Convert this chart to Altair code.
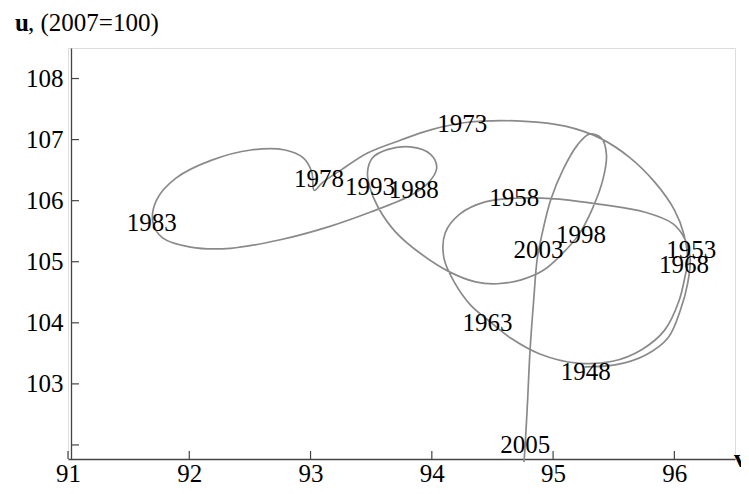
import altair as alt
import pandas as pd

# ---- traced trajectory (v, u), in time order 1948 -> 2005 ----
path_v = [95.26, 95.51, 95.76, 95.95, 96.05, 96.11, 96.13,            # 1948 -> 1953
          96.09, 95.99, 95.76, 95.39, 95.02, 94.69,                    # -> 1958
          94.44, 94.23, 94.11, 94.10, 94.19, 94.32, 94.46,             # -> 1963
          94.65, 94.89, 95.20, 95.49, 95.73, 95.92, 96.04, 96.09, 96.11,  # -> 1968
          96.08, 96.00, 95.84, 95.63, 95.39, 95.10, 94.77, 94.28,      # -> 1973
          93.99, 93.74, 93.47, 93.25, 93.10, 93.03,                    # -> 1978
          93.01, 92.94, 92.79, 92.51, 92.18, 91.89, 91.73, 91.70,      # -> 1983
          91.78, 92.01, 92.34, 92.75, 93.16, 93.49, 93.82,             # -> 1988
          93.97, 94.04, 93.99, 93.82, 93.64, 93.51, 93.47, 93.49,      # -> 1993
          93.56, 93.70, 93.91, 94.15, 94.36, 94.54, 94.73, 94.92, 95.08, 95.21,  # -> 1998
          95.32, 95.41, 95.44, 95.40, 95.30, 95.20, 95.08, 94.98, 94.92, 94.87,  # -> 2003
          94.84, 94.81, 94.79, 94.77, 94.76]                           # -> 2005
path_u = [103.28, 103.31, 103.47, 103.76, 104.21, 104.65, 105.06,
          105.36, 105.62, 105.81, 105.94, 106.03, 106.04,
          105.98, 105.78, 105.47, 105.06, 104.65, 104.29, 104.05,
          103.75, 103.49, 103.34, 103.37, 103.56, 103.88, 104.37, 104.78, 104.99,
          105.44, 105.85, 106.30, 106.71, 107.02, 107.22, 107.30, 107.28,
          107.16, 106.99, 106.78, 106.50, 106.30, 106.17,
          106.47, 106.70, 106.83, 106.83, 106.66, 106.37, 106.01, 105.65,
          105.39, 105.24, 105.22, 105.36, 105.58, 105.81, 106.08,
          106.29, 106.53, 106.76, 106.88, 106.84, 106.70, 106.47, 106.21,
          105.88, 105.49, 105.13, 104.83, 104.67, 104.64, 104.70, 104.86, 105.14, 105.44,
          105.85, 106.34, 106.75, 107.02, 107.09, 106.91, 106.50, 106.01, 105.55, 105.06,
          104.37, 103.55, 102.74, 102.00, 101.72]

# ---- year labels ----
label_years = ["1948", "1953", "1958", "1963", "1968", "1973", "1978",
               "1983", "1988", "1993", "1998", "2003", "2005"]
label_v = [95.27, 96.14, 94.68, 94.46, 96.08, 94.25, 93.07,
           91.69, 93.85, 93.49, 95.23, 94.88, 94.77]
label_u = [103.19, 105.19, 106.04, 104.00, 104.95, 107.25, 106.35,
           105.63, 106.17, 106.22, 105.44, 105.19, 102.00]

# ---- axes ----
x_ticks = [91, 92, 93, 94, 95, 96]
y_ticks = [102, 103, 104, 105, 106, 107, 108]
y_tick_labels = [103, 104, 105, 106, 107, 108]

W, H = 667, 411
FONT = "Liberation Serif"
FS = 25
LINE_COLOR = "#8a8a8a"
AXIS_COLOR = "#444444"

x_scale = alt.Scale(domain=[91, 96.5], nice=False, zero=False)
y_scale = alt.Scale(domain=[101.77, 108.5], nice=False, zero=False)

x_axis = alt.Axis(values=x_ticks, title=None, grid=False, ticks=False, tickSize=0,
                  domain=True, domainColor=AXIS_COLOR, domainWidth=1.3,
                  labelFont=FONT, labelFontSize=FS, labelColor="black",
                  labelPadding=2, labelFlush=False, format="d")
y_axis = alt.Axis(values=y_tick_labels, title=None, grid=False, ticks=False, tickSize=0,
                  domain=True, domainColor=AXIS_COLOR, domainWidth=1.3, offset=-3,
                  labelFont=FONT, labelFontSize=FS, labelColor="black",
                  labelPadding=8, labelFlush=False, format="d")

path_df = pd.DataFrame({"order": list(range(len(path_v))), "v": path_v, "u": path_u})
labels_df = pd.DataFrame({"year": label_years, "v": label_v, "u": label_u})
xt_df = pd.DataFrame({"v": x_ticks})
yt_df = pd.DataFrame({"u": y_ticks})

line = alt.Chart(path_df).mark_line(
    interpolate="catmull-rom", color=LINE_COLOR, strokeWidth=1.7
).encode(
    x=alt.X("v:Q", scale=x_scale, axis=x_axis),
    y=alt.Y("u:Q", scale=y_scale, axis=y_axis),
    order="order:Q",
)

labels = alt.Chart(labels_df).mark_text(
    font=FONT, fontSize=FS, color="black", align="center", baseline="middle"
).encode(
    x=alt.X("v:Q", scale=x_scale, axis=x_axis),
    y=alt.Y("u:Q", scale=y_scale, axis=y_axis),
    text="year:N",
)

x_tick_marks = alt.Chart(xt_df).mark_rule(color=AXIS_COLOR, strokeWidth=1.2).encode(
    x=alt.X("v:Q", scale=x_scale, axis=x_axis),
    y=alt.value(H),
    y2=alt.value(H - 8),
)

y_tick_marks = alt.Chart(yt_df).mark_rule(color=AXIS_COLOR, strokeWidth=1.2).encode(
    y=alt.Y("u:Q", scale=y_scale, axis=y_axis),
    x=alt.value(3),
    x2=alt.value(11),
)

one = alt.Data(values=[{"k": 1}])
u_title = alt.Chart(one).mark_text(
    font=FONT, fontSize=25, fontWeight="bold", color="black", align="left", baseline="middle"
).encode(x=alt.value(-53), y=alt.value(-25), text=alt.value("u"))
u_rest = alt.Chart(one).mark_text(
    font=FONT, fontSize=25, color="black", align="left", baseline="middle"
).encode(x=alt.value(-40), y=alt.value(-25), text=alt.value(", (2007=100)"))
v_title = alt.Chart(one).mark_text(
    font=FONT, fontSize=26, fontWeight="bold", color="black", align="left", baseline="middle"
).encode(x=alt.value(W - 1), y=alt.value(H), text=alt.value("v"))

chart = alt.layer(
    x_tick_marks, y_tick_marks, line, labels, u_title, u_rest, v_title
).properties(
    width=W, height=H,
    padding={"left": 60, "top": 40, "right": 6, "bottom": 27},
    autosize=alt.AutoSizeParams(type="none"),
).configure_view(stroke=None).configure(background="white")

chart.save("out.html", embed_options={"renderer": "svg", "actions": False})
